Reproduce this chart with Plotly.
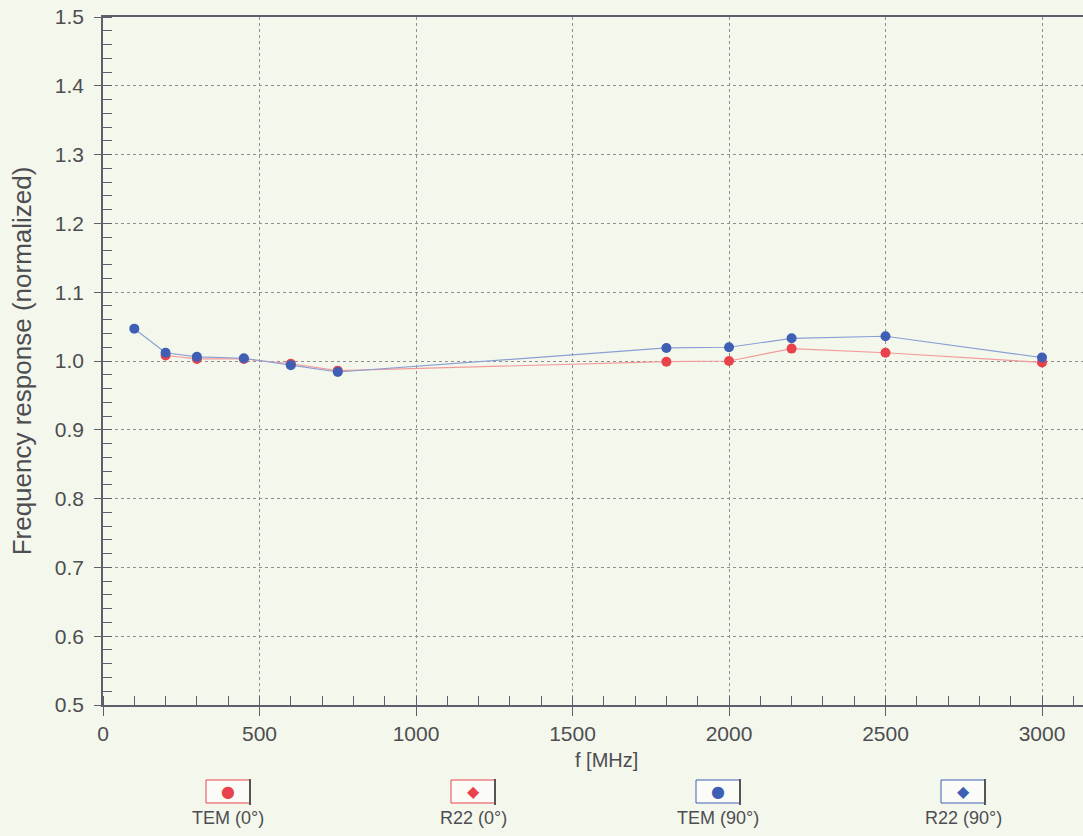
import plotly.graph_objects as go

# ---- data ----
f_tem_90 = [100, 200, 300, 450, 600, 750]
tem_90 = [1.047, 1.012, 1.006, 1.004, 0.994, 0.984]

f_tem_0 = [200, 300, 450, 600, 750]
tem_0 = [1.008, 1.003, 1.003, 0.996, 0.986]

f_r22 = [1800, 2000, 2200, 2500, 3000]
r22_90 = [1.019, 1.020, 1.033, 1.036, 1.005]
r22_0 = [0.999, 1.000, 1.018, 1.012, 0.998]

legend_labels = ["TEM (0°)", "R22 (0°)", "TEM (90°)", "R22 (90°)"]
legend_symbols = ["●", "◆", "●", "◆"]

RED = "#e8434c"
BLUE = "#3f5fb5"
RED_LINE = "#f29a9a"
BLUE_LINE = "#8a9fd6"
BG = "#f4f8ec"
FONT = "Liberation Sans, Arial, sans-serif"
TXT = "#4d4d52"
AX = "#5e5e6c"

fig = go.Figure()

# connecting lines (one per orientation)
fig.add_trace(go.Scatter(x=f_tem_0 + f_r22, y=tem_0 + r22_0, mode="lines",
                         line=dict(color=RED_LINE, width=1.2), showlegend=False, hoverinfo="skip"))
fig.add_trace(go.Scatter(x=f_tem_90 + f_r22, y=tem_90 + r22_90, mode="lines",
                         line=dict(color=BLUE_LINE, width=1.2), showlegend=False, hoverinfo="skip"))

# markers
fig.add_trace(go.Scatter(x=f_tem_0, y=tem_0, mode="markers", name=legend_labels[0],
                         marker=dict(color=RED, size=10, symbol="circle"), showlegend=False))
fig.add_trace(go.Scatter(x=f_r22, y=r22_0, mode="markers", name=legend_labels[1],
                         marker=dict(color=RED, size=10, symbol="circle"), showlegend=False))
fig.add_trace(go.Scatter(x=f_tem_90, y=tem_90, mode="markers", name=legend_labels[2],
                         marker=dict(color=BLUE, size=10, symbol="circle"), showlegend=False))
fig.add_trace(go.Scatter(x=f_r22, y=r22_90, mode="markers", name=legend_labels[3],
                         marker=dict(color=BLUE, size=10, symbol="circle"), showlegend=False))

W, H = 1083, 836
L, R, T, B = 103, 0, 17, 131
pw, ph = W - L - R, H - T - B

def px(x):
    return (x - L) / pw

def py(y):
    return (H - B - y) / ph

# custom legend below the chart
centers = [228, 473, 718, 963]
colors = [RED, RED, BLUE, BLUE]
for cx, lab, sym, col in zip(centers, legend_labels, legend_symbols, colors):
    fig.add_shape(type="rect", xref="paper", yref="paper",
                  x0=px(cx - 22), x1=px(cx + 22), y0=py(803), y1=py(780),
                  line=dict(color=col, width=1), fillcolor="#fbfcf8", layer="above")
    fig.add_shape(type="line", xref="paper", yref="paper",
                  x0=px(cx + 22), x1=px(cx + 22), y0=py(805), y1=py(779),
                  line=dict(color="#555555", width=2))
    fig.add_annotation(xref="paper", yref="paper", x=px(cx), y=py(791), text=sym,
                       showarrow=False, font=dict(color=col, size=16, family="DejaVu Sans"),
                       xanchor="center", yanchor="middle")
    fig.add_annotation(xref="paper", yref="paper", x=px(cx), y=py(818), text=lab,
                       showarrow=False, font=dict(color=TXT, size=18, family=FONT),
                       xanchor="center", yanchor="middle")

# x-axis title (placed slightly right of centre as in the reference)
fig.add_annotation(xref="paper", yref="paper", x=px(606), y=py(760), text="f [MHz]",
                   showarrow=False, font=dict(color=TXT, size=20, family=FONT),
                   xanchor="center", yanchor="middle")

fig.update_layout(
    width=W, height=H,
    margin=dict(l=L, r=R, t=T, b=B, autoexpand=False),
    paper_bgcolor=BG, plot_bgcolor=BG,
    font=dict(family=FONT, color=TXT, size=20),
    showlegend=False,
)

fig.update_xaxes(
    range=[0, 3131], tickvals=[0, 500, 1000, 1500, 2000, 2500, 3000],
    showline=True, linecolor=AX, linewidth=1.5, mirror=True,
    ticks="outside", ticklen=9, tickcolor=AX, tickwidth=1.3,
    minor=dict(dtick=100, tick0=0, ticks="inside", ticklen=9, tickcolor=AX, tickwidth=1.3, showgrid=False),
    showgrid=True, gridcolor="#8f8f8f", griddash="dot", gridwidth=1,
    zeroline=False, tickfont=dict(size=21, color=TXT),
)
fig.update_yaxes(
    range=[0.5, 1.5], dtick=0.1, tick0=0.5, tickformat=".1f",
    showline=True, linecolor=AX, linewidth=1.5,
    ticks="outside", ticklen=7, tickcolor=AX, tickwidth=1.3, ticklabelstandoff=6,
    minor=dict(dtick=0.02, tick0=0.5, ticks="inside", ticklen=9, tickcolor=AX, tickwidth=1.3, showgrid=False),
    showgrid=True, gridcolor="#8f8f8f", griddash="dot", gridwidth=1,
    zeroline=False, tickfont=dict(size=21, color=TXT),
    title=dict(text="Frequency response (normalized)", font=dict(size=26, color=TXT), standoff=16),
)

fig.write_html("out.html", config={"displayModeBar": False},
               post_script="document.body.style.margin='0';document.body.style.overflow='hidden';")
